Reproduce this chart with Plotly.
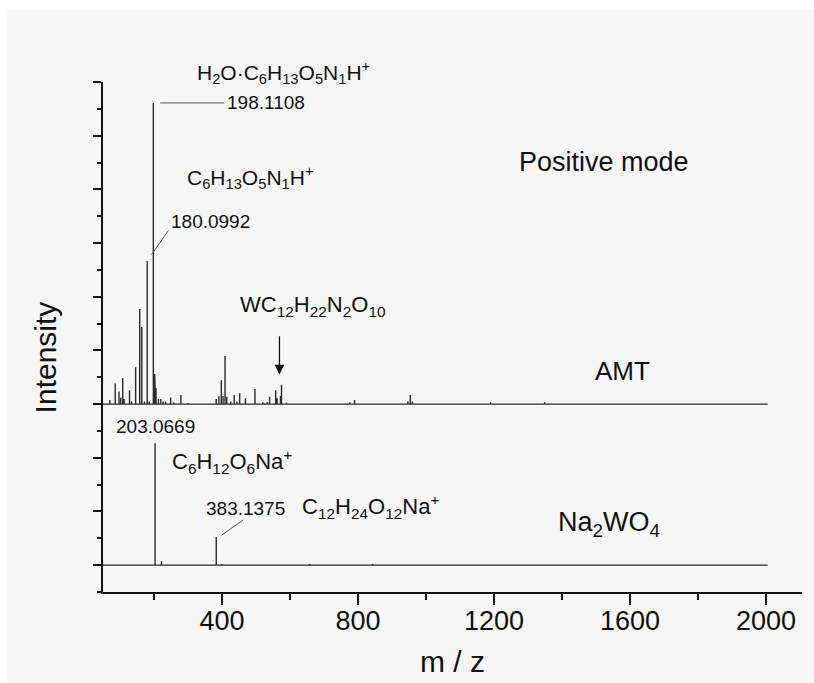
import plotly.graph_objects as go

# ---------------- data ----------------
# AMT spectrum: m/z of peaks and their heights (in y-axis tick units above the AMT baseline)
amt_mz = [70, 86, 97, 102, 108, 112, 128, 134, 146, 158, 164, 172, 180.0992, 186,
          198.1108, 202, 204, 206, 213, 220, 227, 234, 249, 258, 279, 300,
          383, 391, 398, 403, 409, 414, 426, 436, 444, 452, 469, 497, 520, 533,
          540, 558, 562, 572, 575, 590, 776, 790, 947, 954, 960, 1190, 1349]
amt_int = [0.15, 0.77, 0.47, 0.25, 0.97, 0.19, 0.52, 0.10, 1.37, 3.54, 2.87, 0.10, 5.33, 0.10,
           11.22, 1.12, 0.95, 0.60, 0.19, 0.19, 0.10, 0.10, 0.25, 0.07, 0.34, 0.04,
           0.19, 0.29, 0.89, 0.30, 1.79, 0.27, 0.10, 0.34, 0.10, 0.40, 0.22, 0.56, 0.07, 0.07,
           0.27, 0.52, 0.22, 0.30, 0.72, 0.05, 0.07, 0.15, 0.11, 0.34, 0.10, 0.07, 0.07]

# Na2WO4 spectrum
na_mz = [203.0669, 222, 383.1375, 399, 658, 843]
na_int = [4.54, 0.15, 1.05, 0.04, 0.04, 0.04]

mz_start, mz_end = 50, 2005
amt_offset = 7   # baseline of the AMT trace (stacked plot)
na_offset = 1    # baseline of the Na2WO4 trace

x_ticks = [400, 800, 1200, 1600, 2000]

# ---------------- helpers ----------------
def stick(mz, inten, base):
    xs, ys = [mz_start], [base]
    for m, h in zip(mz, inten):
        xs += [m, m, m]
        ys += [base, base + h, base]
    xs.append(mz_end)
    ys.append(base)
    return xs, ys

FONT = "Liberation Sans, Arial, sans-serif"
INK = "#111111"

fig = go.Figure()
ax, ay = stick(amt_mz, amt_int, amt_offset)
nx, ny = stick(na_mz, na_int, na_offset)
fig.add_trace(go.Scatter(x=ax, y=ay, mode="lines", name="AMT",
                         line=dict(color="#2a2a2a", width=1.4), hoverinfo="skip"))
fig.add_trace(go.Scatter(x=nx, y=ny, mode="lines", name="Na2WO4",
                         line=dict(color="#2a2a2a", width=1.4), hoverinfo="skip"))

# peak tops used for leader lines
p198 = amt_offset + amt_int[amt_mz.index(198.1108)]
p180 = amt_offset + amt_int[amt_mz.index(180.0992)]
p383 = na_offset + na_int[na_mz.index(383.1375)]

lead = dict(color="#555555", width=1)
shapes = [
    dict(type="line", xref="x", yref="y", x0=198.1108 + 20, x1=198.1108 + 208, y0=p198, y1=p198, line=lead),
    dict(type="line", xref="x", yref="y", x0=180.0992 + 13, x1=180.0992 + 62, y0=p180 + 0.24, y1=p180 + 1.13, line=lead),
    dict(type="line", xref="x", yref="y", x0=383.1375 + 16, x1=383.1375 + 79, y0=p383 + 0.07, y1=p383 + 0.63, line=lead),
    # white scan border
    dict(type="rect", xref="paper", yref="paper", x0=-0.16, x1=1.03, y0=1.141, y1=1.17,
         fillcolor="white", line=dict(width=0), layer="below"),
    dict(type="rect", xref="paper", yref="paper", x0=-0.16, x1=-0.137, y0=-0.2, y1=1.17,
         fillcolor="white", line=dict(width=0), layer="below"),
]

def txt(text, x, y, size, xanchor="left", yanchor="middle", xref="x", yref="y", angle=0):
    return dict(text=text, x=x, y=y, xref=xref, yref=yref, showarrow=False,
                xanchor=xanchor, yanchor=yanchor, textangle=angle,
                font=dict(family=FONT, size=size, color=INK))

annotations = [
    txt("H<sub>2</sub>O·C<sub>6</sub>H<sub>13</sub>O<sub>5</sub>N<sub>1</sub>H<sup>+</sup>",
        (195 - 103) / 699, (592 - 72) / 510, 21, xref="paper", yref="paper"),
    txt("198.1108", 409, p198, 19),
    txt("C<sub>6</sub>H<sub>13</sub>O<sub>5</sub>N<sub>1</sub>H<sup>+</sup>", 291, 15.45, 21),
    txt("180.0992", 245, 13.8, 19),
    txt("WC<sub>12</sub>H<sub>22</sub>N<sub>2</sub>O<sub>10</sub>", 448, 10.65, 22),
    txt("Positive mode", 1523, 16.03, 27, xanchor="center"),
    txt("AMT", 1579, 8.23, 26, xanchor="center"),
    txt("Na<sub>2</sub>WO<sub>4</sub>", 1538, 2.55, 27, xanchor="center"),
    txt("203.0669", 205, 6.16, 19, xanchor="center"),
    txt("C<sub>6</sub>H<sub>12</sub>O<sub>6</sub>Na<sup>+</sup>", 247, 4.85, 22),
    txt("383.1375", 347, 3.12, 19),
    txt("C<sub>12</sub>H<sub>24</sub>O<sub>12</sub>Na<sup>+</sup>", 629, 3.2, 22),
    txt("m / z", 0.5007, -0.137, 30, xanchor="center", xref="paper", yref="paper"),
    txt("Intensity", -0.083, 0.46, 30, xanchor="center", xref="paper", yref="paper", angle=-90),
    dict(x=569, y=8.1, ax=569, ay=9.58, xref="x", yref="y", axref="x", ayref="y",
         showarrow=True, arrowhead=2, arrowsize=1.5, arrowwidth=1.3, arrowcolor="#111111", text=""),
]

fig.update_layout(
    width=814, height=683,
    margin=dict(l=103, r=12, t=82, b=91),
    paper_bgcolor="#f6f6f6", plot_bgcolor="#f6f6f6",
    showlegend=False,
    font=dict(family=FONT, color=INK),
    shapes=shapes, annotations=annotations,
    xaxis=dict(range=[50, 2106], tickmode="array", tickvals=x_ticks,
               ticktext=[str(v) for v in x_ticks],
               showline=True, linecolor="#111111", linewidth=1.8,
               ticks="outside", ticklen=11, tickwidth=1.6, tickcolor="#111111",
               ticklabelstandoff=-7,
               tickfont=dict(size=27, family=FONT, color=INK),
               showgrid=False, zeroline=False,
               minor=dict(tickmode="linear", tick0=0, dtick=200, ticks="outside",
                          ticklen=6, tickwidth=1.6, tickcolor="#111111", showgrid=False)),
    yaxis=dict(range=[0, 19], showline=True, linecolor="#111111", linewidth=1.8,
               tickmode="linear", tick0=1, dtick=2, ticks="outside", ticklen=8,
               tickwidth=1.6, tickcolor="#111111", showticklabels=False,
               showgrid=False, zeroline=False,
               minor=dict(tickmode="linear", tick0=0, dtick=1, ticks="outside",
                          ticklen=4, tickwidth=1.6, tickcolor="#111111", showgrid=False)),
)

fig.write_html("out.html")
